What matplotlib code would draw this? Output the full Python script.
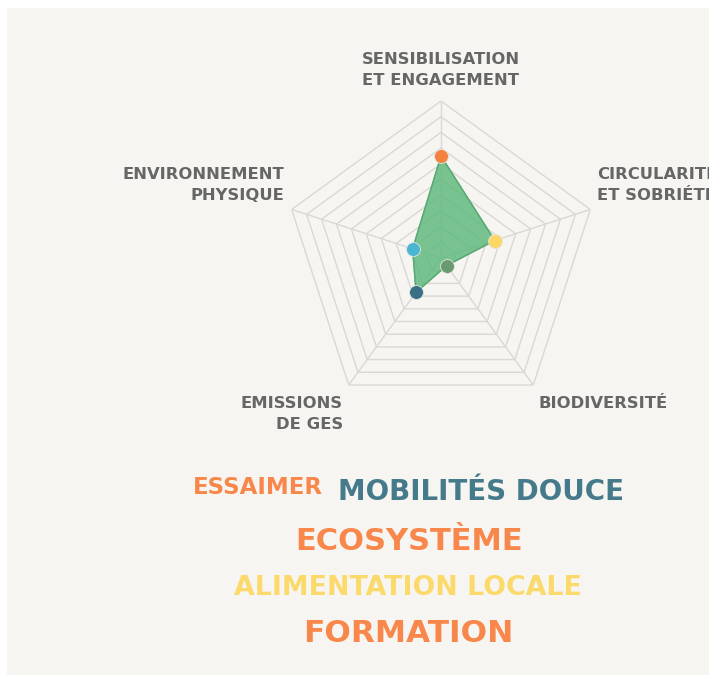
import numpy as np
import matplotlib.pyplot as plt
from matplotlib.patches import Rectangle

# axes of the radar, clockwise from the top
axes_labels = ["SENSIBILISATION\nET ENGAGEMENT", "CIRCULARITÉ\nET SOBRIÉTÉ", "BIODIVERSITÉ",
               "EMISSIONS\nDE GES", "ENVIRONNEMENT\nPHYSIQUE"]
scores = [6.5, 3.6, 0.6, 2.7, 1.9]
dot_colors = ["#f4813f", "#fbd866", "#6a9a70", "#396f85", "#4ab6d3"]
n_levels = 10

# word cloud under the chart
words = ["ESSAIMER", "MOBILITÉS DOUCE", "ECOSYSTÈME", "ALIMENTATION LOCALE", "FORMATION"]
word_colors = ["#f7874a", "#457a8b", "#f7874a", "#fbd96b", "#f7874a"]
word_sizes = [16.5, 20, 22, 19.3, 22.5]

plt.rcParams['font.family'] = ['DejaVu Sans']

W, H = 709, 675
fig = plt.figure(figsize=(W / 100, H / 100), dpi=100)
fig.patch.set_facecolor("white")
fig.patches.append(Rectangle((7 / W, 0), 1, 1 - 8 / H, transform=fig.transFigure,
                             facecolor="#f7f5f1", edgecolor="none", zorder=-1))

cx, cy, R = 441, 258, 157
ax = fig.add_axes([(cx - R) / W, (H - cy - R) / H, 2 * R / W, 2 * R / H], projection="polar")
ax.set_facecolor("none")
ax.set_theta_offset(np.pi / 2)
ax.set_theta_direction(-1)
ax.set_ylim(0, n_levels)
ax.grid(False)
ax.spines["polar"].set_visible(False)
ax.set_xticks([])
ax.set_yticks([])

k = len(scores)
theta = np.arange(k) * 2 * np.pi / k
theta_c = np.append(theta, theta[0])

# pentagon rings and spokes
grid_col = "#dad8d4"
for lvl in range(1, n_levels + 1):
    ax.plot(theta_c, [lvl] * (k + 1), color=grid_col, lw=1, zorder=1)
for t in theta:
    ax.plot([t, t], [0, n_levels], color=grid_col, lw=1, zorder=1)

vals = np.append(scores, scores[0])
ax.fill(theta_c, vals, color="#5cb97b", alpha=0.82, zorder=2)
ax.plot(theta_c, vals, color="#5aa873", lw=1, zorder=3)
for t, v, c in zip(theta, scores, dot_colors):
    ax.plot(t, v, "o", ms=10, color=c, mec="#e6e4dc", mew=0.6, zorder=4)

# axis labels
lab_kw = dict(fontsize=11.8, fontweight="bold", color="#666666", linespacing=1.45)
lab_pos = [(441, 70, "center"), (597, 185, "left"), (539, 403, "left"),
           (343, 414, "right"), (284, 185, "right")]
for text, (x, y, ha) in zip(axes_labels, lab_pos):
    fig.text(x / W, 1 - y / H, text, ha=ha, va="center", multialignment=ha, **lab_kw)

word_pos = [(258, 488), (481, 492), (409, 542), (408, 588), (408, 633)]
for w, c, s, (x, y) in zip(words, word_colors, word_sizes, word_pos):
    fig.text(x / W, 1 - y / H, w, ha="center", va="center", color=c,
             fontsize=s, fontweight="bold")

fig.savefig("out.png", dpi=100)
